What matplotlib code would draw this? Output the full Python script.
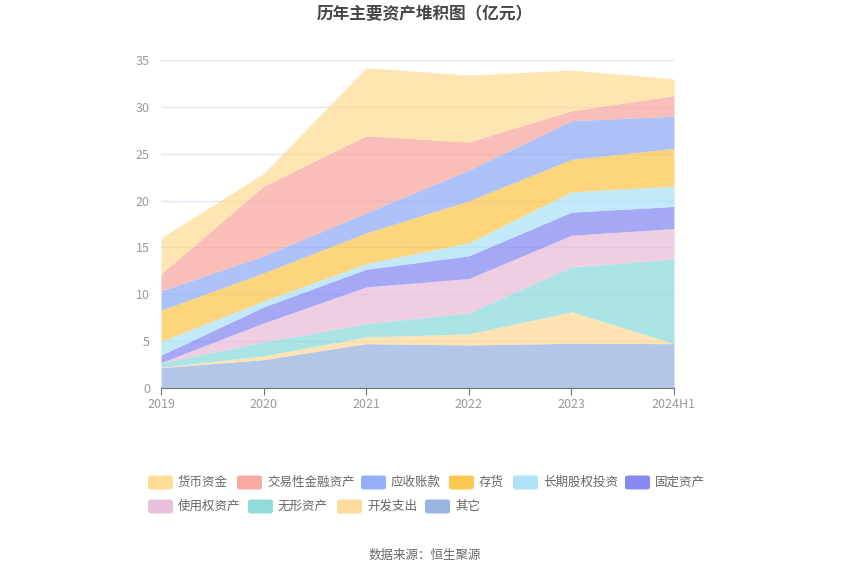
import matplotlib
matplotlib.use("Agg")
import matplotlib.pyplot as plt
from matplotlib.patches import FancyBboxPatch
import numpy as np

plt.rcParams['font.family'] = ['Noto Sans CJK SC', 'DejaVu Sans']

years = ["2019", "2020", "2021", "2022", "2023", "2024H1"]

# stacked from bottom to top
qita      = [2.17, 3.03, 4.73, 4.59, 4.77, 4.73]   # 其它
kaifa     = [0.05, 0.39, 0.72, 1.18, 3.35, 0.02]   # 开发支出
wuxing    = [0.45, 1.49, 1.42, 2.24, 4.80, 9.03]   # 无形资产
shiyong   = [0.05, 2.03, 3.92, 3.67, 3.38, 3.24]   # 使用权资产
guding    = [0.78, 1.71, 1.88, 2.42, 2.46, 2.35]   # 固定资产
changqi   = [1.48, 0.64, 0.61, 1.39, 2.17, 2.17]   # 长期股权投资
cunhuo    = [3.31, 2.99, 3.27, 4.48, 3.46, 4.02]   # 存货
yingshou  = [2.07, 1.82, 2.14, 3.28, 4.13, 3.45]   # 应收账款
jiaoyi    = [1.81, 7.44, 8.22, 2.99, 1.06, 2.18]   # 交易性金融资产
huobi     = [3.85, 1.35, 7.27, 7.15, 4.35, 1.78]   # 货币资金

stack = [
    ("其它", qita, "#8eacdc"),
    ("开发支出", kaifa, "#ffd690"),
    ("无形资产", wuxing, "#84d8d8"),
    ("使用权资产", shiyong, "#e8b8d8"),
    ("固定资产", guding, "#7a7ff0"),
    ("长期股权投资", changqi, "#a6dff9"),
    ("存货", cunhuo, "#fdc23e"),
    ("应收账款", yingshou, "#88a6f8"),
    ("交易性金融资产", jiaoyi, "#f9a099"),
    ("货币资金", huobi, "#ffd98c"),
]
legend_order = ["货币资金", "交易性金融资产", "应收账款", "存货", "长期股权投资",
                "固定资产", "使用权资产", "无形资产", "开发支出", "其它"]

fig = plt.figure(figsize=(8.5, 5.75), dpi=100)
W, H = 850, 575
left, right, top, bottom = 161, 674, 60, 388
ax = fig.add_axes([left / W, 1 - bottom / H, (right - left) / W, (bottom - top) / H])

x = np.arange(len(years))
base = np.zeros(len(years))
for name, vals, col in stack:
    v = np.array(vals)
    ax.fill_between(x, base, base + v, color=col, alpha=0.68, linewidth=0, zorder=2)
    base = base + v

ax.set_xlim(0, len(years) - 1)
ax.set_ylim(0, 35)
ax.set_yticks(range(0, 36, 5))
ax.set_xticks(x)
ax.set_xticklabels(years)
ax.grid(axis='y', color='#e0e6f1', linewidth=1, zorder=0)
ax.set_axisbelow(True)
for s in ['top', 'right', 'left']:
    ax.spines[s].set_visible(False)
ax.spines['bottom'].set_color('#6e7079')
ax.tick_params(axis='y', length=0, labelsize=9, labelcolor='#999999', pad=8)
ax.tick_params(axis='x', length=5, color='#6e7079', labelsize=9, labelcolor='#999999', pad=2)

fig.text(425 / W, 1 - 14 / H, "历年主要资产堆积图（亿元）", ha='center', va='center',
         fontsize=12, fontweight='bold', color='#464646')
fig.text(425 / W, 1 - 555 / H, "数据来源：恒生聚源", ha='center', va='center',
         fontsize=9, color='#666666')

colors = {n: c for n, _, c in stack}
pos = {
    "货币资金": (148, 482.5), "交易性金融资产": (237, 482.5), "应收账款": (361, 482.5),
    "存货": (449, 482.5), "长期股权投资": (513, 482.5), "固定资产": (625, 482.5),
    "使用权资产": (148, 506.5), "无形资产": (248, 506.5), "开发支出": (337, 506.5),
    "其它": (425, 506.5),
}
for name in legend_order:
    px, py = pos[name]
    bw, bh = 25, 14
    p = FancyBboxPatch(((px) / W, 1 - (py + bh / 2) / H), bw / W, bh / H,
                       boxstyle="round,pad=0,rounding_size=0.004",
                       transform=fig.transFigure, facecolor=colors[name],
                       edgecolor='none', alpha=0.9)
    fig.patches.append(p)
    fig.text((px + bw + 5) / W, 1 - py / H, name, ha='left', va='center',
             fontsize=9, color='#666666')

fig.savefig("out.png", dpi=100)
